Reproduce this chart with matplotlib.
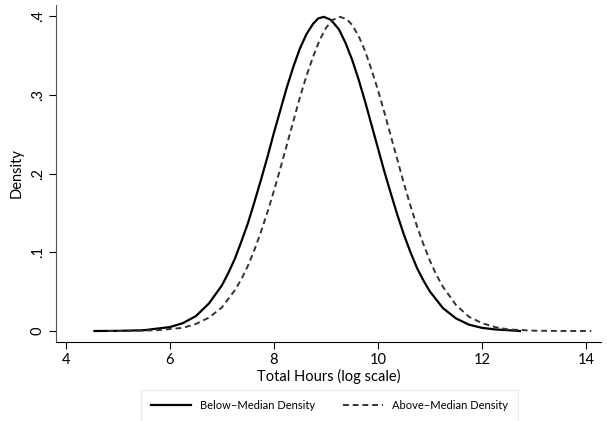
import matplotlib
matplotlib.use("Agg")
import matplotlib.pyplot as plt

plt.rcParams['font.family'] = ['Lato', 'DejaVu Sans']

# density curves
below_x = [4.55, 5.0, 5.5, 6.0, 6.25, 6.5, 6.75, 7.0, 7.125, 7.25, 7.375, 7.5,
           7.625, 7.75, 7.875, 8.0, 8.25, 8.375, 8.5, 8.625, 8.75, 8.85, 8.96,
           9.1, 9.25, 9.375, 9.5, 9.625, 9.75, 9.875, 10.0, 10.125, 10.25,
           10.375, 10.5, 10.625, 10.75, 10.875, 11.0, 11.25, 11.5, 11.75, 12.0,
           12.25, 12.5, 12.73]
below_y = [0.0, 0.0002, 0.001, 0.005, 0.010, 0.019, 0.035, 0.058, 0.074, 0.092,
           0.114, 0.137, 0.164, 0.192, 0.221, 0.252, 0.310, 0.336, 0.359, 0.377,
           0.390, 0.397, 0.399, 0.395, 0.383, 0.366, 0.345, 0.320, 0.292, 0.262,
           0.232, 0.202, 0.174, 0.147, 0.122, 0.100, 0.080, 0.064, 0.050, 0.029,
           0.016, 0.008, 0.004, 0.002, 0.001, 0.0]

above_x = [4.8, 5.25, 5.75, 6.25, 6.5, 6.75, 7.0, 7.25, 7.375, 7.5, 7.625, 7.75,
           7.875, 8.0, 8.125, 8.25, 8.375, 8.5, 8.625, 8.75, 8.875, 9.0, 9.125,
           9.27, 9.4, 9.5, 9.625, 9.75, 9.875, 10.0, 10.125, 10.25, 10.375, 10.5,
           10.625, 10.75, 10.875, 11.0, 11.125, 11.25, 11.5, 11.75, 12.0, 12.25,
           12.5, 13.0, 13.5, 14.1]
above_y = [0.0, 0.0001, 0.001, 0.004, 0.009, 0.017, 0.030, 0.052, 0.066, 0.083,
           0.103, 0.126, 0.151, 0.178, 0.207, 0.237, 0.267, 0.297, 0.324, 0.348,
           0.369, 0.385, 0.395, 0.399, 0.396, 0.389, 0.375, 0.356, 0.332, 0.306,
           0.277, 0.247, 0.217, 0.187, 0.159, 0.133, 0.110, 0.089, 0.071, 0.056,
           0.033, 0.018, 0.010, 0.005, 0.002, 0.0004, 0.0, 0.0]

xticks = [4, 6, 8, 10, 12, 14]
yticks = [0, 0.1, 0.2, 0.3, 0.4]
ytick_labels = ['0', '.1', '.2', '.3', '.4']

fig = plt.figure(figsize=(6.07, 4.21), dpi=100)
ax = fig.add_axes([0.0923, 0.1876, 0.898, 0.8004])

ax.plot(below_x, below_y, color='black', lw=1.6, label='Below\u2212Median Density')
ax.plot(above_x, above_y, color='#333333', lw=1.4, dashes=(3, 2),
        label='Above\u2212Median Density')

ax.set_xlim(3.81, 14.29)
ax.set_ylim(-0.014, 0.414)
ax.set_xticks(xticks)
ax.set_yticks(yticks)
ax.set_yticklabels(ytick_labels, rotation=90, va='center')
ax.tick_params(labelsize=10.5, length=5, width=0.8, pad=3)

ax.spines['top'].set_visible(False)
ax.spines['right'].set_visible(False)
ax.spines['left'].set_color('#555555')
ax.spines['bottom'].set_color('black')

ax.set_xlabel('Total Hours (log scale)', fontsize=10.5, labelpad=1)
ax.set_ylabel('Density', fontsize=10.5, labelpad=5)

leg = fig.legend(loc='center', bbox_to_anchor=(0.543, 0.036), ncol=2,
                 fontsize=8, handlelength=3.6, columnspacing=2.5,
                 frameon=True, fancybox=False, borderpad=0.9)
leg.get_frame().set_edgecolor('#dde8ee')
leg.get_frame().set_linewidth(0.8)

fig.savefig('out.png', dpi=100)
